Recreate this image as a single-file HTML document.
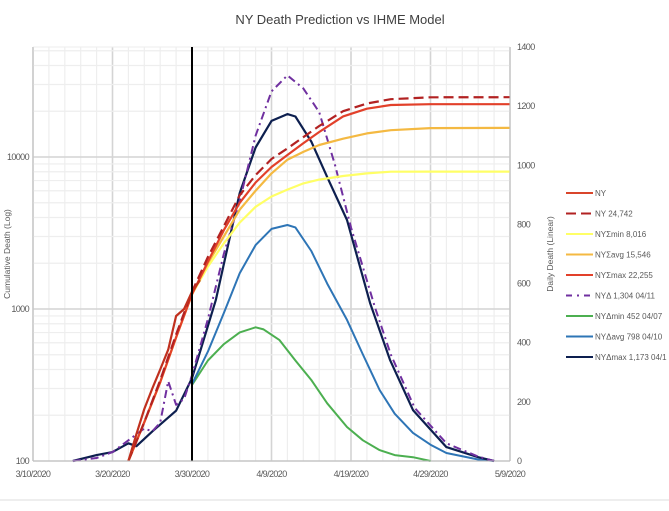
<!DOCTYPE html>
<html><head><meta charset="utf-8"><style>
body{margin:0;background:#fff;width:669px;height:506px;overflow:hidden;font-family:"Liberation Sans",sans-serif}
svg text{font-family:"Liberation Sans",sans-serif}
</style></head><body>
<svg id="c" width="669" height="506">
<text x="340" y="24" text-anchor="middle" font-size="13" fill="#404040">NY Death Prediction vs IHME Model</text>
<g id="grid"></g><g id="series"></g><g id="axes"></g><g id="legend"></g>
<line x1="0" y1="500" x2="669" y2="500" stroke="#ddd" stroke-width="1"/>
</svg>
<script>
const dateLabels = ["3/10/2020","3/20/2020","3/30/2020","4/9/2020","4/19/2020","4/29/2020","5/9/2020"];
const logTicks = [100,1000,10000];
const linTicks = [0,200,400,600,800,1000,1200,1400];
// cumulative series (day offset from 3/10)
const cumDays = [12,14,16,18,20,22,24,26,28,30,32,34,36,39,42,45,50,60];
const nyActualDays = [12,13,14,15,16,17,18,19,20,21];
const nyActual = [100,150,220,300,400,540,900,1000,1300,1550];
const ny24742 = [100,180,340,680,1300,2200,3500,5600,7600,9700,11400,13500,16000,20000,22500,24000,24700,24742];
const sigMax = [100,180,330,650,1250,2050,3300,5000,6800,8600,10300,12300,14600,18500,20800,22000,22255,22255];
const sigAvg = [100,180,330,650,1250,2000,3000,4500,6000,7800,9600,10800,12000,13200,14300,15000,15500,15546];
const sigMin = [100,180,330,650,1250,1900,2700,3700,4700,5500,6100,6700,7100,7500,7800,8000,8016,8016];
// daily series
const dDelta = [5,8,10,12,14,15,16,17,18,19,20,22,24,26,28,30,32,34,36,38,40,43,45,48,52,56,58];
const vDelta = [0,10,30,70,110,100,130,270,190,210,290,480,700,880,1100,1250,1304,1260,1180,1000,790,520,360,180,60,15,0];
const dMax = [5,8,10,12,13,15,18,20,23,26,28,30,32,33,35,37,39.5,42.4,44.9,47.8,52,56,58];
const vMax = [0,20,30,60,50,100,170,280,544,906,1060,1150,1173,1165,1080,960,815,534,342,172,47,13,0];
const dAvg = [20,22,24,26,28,30,32,33,35,37,39.5,41.5,43.6,45.5,47.8,50,52,56,58];
const vAvg = [260,370,500,635,730,785,798,790,710,600,477,360,240,160,95,55,27,5,0];
const dMin = [20,22,24,26,28,29,31,33,35,37,39.5,41.5,43.6,45.5,47.8,50];
const vMin = [257,340,395,435,452,445,409,340,274,195,115,70,37,20,13,0];

const X0=33, PX=7.95, YL0=461, DEC=152, YTOP=47;
const x = d => X0 + d*PX;
const yLog = v => YL0 - (Math.log10(v)-2)*DEC;
const yLin = v => YL0 - v*(YL0-YTOP)/1400;
const NS="http://www.w3.org/2000/svg";
function mk(tag,attrs,parent){const e=document.createElementNS(NS,tag);for(const k in attrs)e.setAttribute(k,attrs[k]);parent.appendChild(e);return e;}
const grid=document.getElementById('grid'), axes=document.getElementById('axes'), ser=document.getElementById('series'), leg=document.getElementById('legend');
for(let d=0;d<=60;d+=2){const major=d%10===0;const l=mk('line',{x1:x(d),x2:x(d),y1:YTOP,y2:YL0,stroke:major?'#d4d4d4':'#eeeeee','stroke-width':major?1.6:1.2},grid);

}
for(let dec=100;dec<=10000;dec*=10){for(let m=1;m<=9;m++){const v=dec*m;const y=yLog(v);if(y<YTOP)continue;const l=mk('line',{x1:X0,x2:x(60),y1:y,y2:y,stroke:m===1?'#d4d4d4':'#eeeeee','stroke-width':m===1?1.6:1.2},grid);

}}
mk('line',{x1:X0,x2:x(60),y1:YTOP,y2:YTOP,stroke:'#eee'},grid);
mk('line',{x1:X0,x2:X0,y1:YTOP,y2:YL0,stroke:'#bfbfbf'},axes);
mk('line',{x1:x(60),x2:x(60),y1:YTOP,y2:YL0,stroke:'#bfbfbf'},axes);
mk('line',{x1:X0,x2:x(60),y1:YL0,y2:YL0,stroke:'#bfbfbf'},axes);
dateLabels.forEach((t,i)=>{const e=mk('text',{x:x(i*10),y:477,'text-anchor':'middle','font-size':9,fill:'#595959','letter-spacing':'-0.6'},axes);e.textContent=t;

});
logTicks.forEach(v=>{const e=mk('text',{x:29,y:yLog(v)+3,'text-anchor':'end','font-size':9,fill:'#595959','letter-spacing':'-0.6'},axes);e.textContent=v;

});
linTicks.forEach(v=>{const e=mk('text',{x:517,y:yLin(v)+3,'font-size':9,fill:'#595959','letter-spacing':'-0.6'},axes);e.textContent=v;

});
let t=mk('text',{x:0,y:0,transform:'translate(10,254) rotate(-90)','text-anchor':'middle','font-size':8.5,fill:'#595959'},axes);t.textContent='Cumulative Death (Log)';


t=mk('text',{x:0,y:0,transform:'translate(553,254) rotate(-90)','text-anchor':'middle','font-size':8.5,fill:'#595959'},axes);t.textContent='Daily Death (Linear)';


function line(days,vals,yf,st,name){const p=days.map((d,i)=>x(d).toFixed(1)+','+yf(vals[i]).toFixed(1)).join(' ');const e=mk('polyline',Object.assign({points:p,fill:'none','stroke-linejoin':'round'},st),ser);

}
line(dMin,vMin,yLin,{stroke:'#4caf50','stroke-width':2},'series-delta-min');
line(dAvg,vAvg,yLin,{stroke:'#2e75b6','stroke-width':2},'series-delta-avg');
line(dMax,vMax,yLin,{stroke:'#0d1f4f','stroke-width':2.2},'series-delta-max');
line(dDelta,vDelta,yLin,{stroke:'#7030a0','stroke-width':2,'stroke-dasharray':'8,4,2,4'},'series-delta');
line(cumDays,sigMin,yLog,{stroke:'#ffff66','stroke-width':2.2},'series-sigma-min');
line(cumDays,sigAvg,yLog,{stroke:'#f4b942','stroke-width':2.2},'series-sigma-avg');
line(cumDays,sigMax,yLog,{stroke:'#e2402a','stroke-width':2.2},'series-sigma-max');
line(cumDays,ny24742,yLog,{stroke:'#b22222','stroke-width':2.2,'stroke-dasharray':'10,5'},'series-ny-24742');
line(nyActualDays,nyActual,yLog,{stroke:'#c0301e','stroke-width':2.2},'series-ny');
const vl=mk('line',{x1:x(20),x2:x(20),y1:YTOP,y2:YL0,stroke:'#000','stroke-width':2},ser);


const legendItems=[["NY",'#d9452b',null],["NY 24,742",'#b22222','10,5'],["NYΣmin 8,016",'#ffff66',null],["NYΣavg 15,546",'#f4b942',null],["NYΣmax 22,255",'#e2402a',null],["NYΔ 1,304 04/11",'#7030a0','6,5,2,5'],["NYΔmin 452 04/07",'#4caf50',null],["NYΔavg 798 04/10",'#2e75b6',null],["NYΔmax 1,173 04/1",'#0d1f4f',null]];
legendItems.forEach((it,i)=>{const y=193+i*20.5;const g=mk('g',{},leg);


const a={x1:566,x2:593,y1:y,y2:y,stroke:it[1],'stroke-width':2};if(it[2])a['stroke-dasharray']=it[2];mk('line',a,g);
const e=mk('text',{x:595,y:y+3,'font-size':8,fill:'#595959'},g);e.textContent=it[0];});
</script>
</body></html>
